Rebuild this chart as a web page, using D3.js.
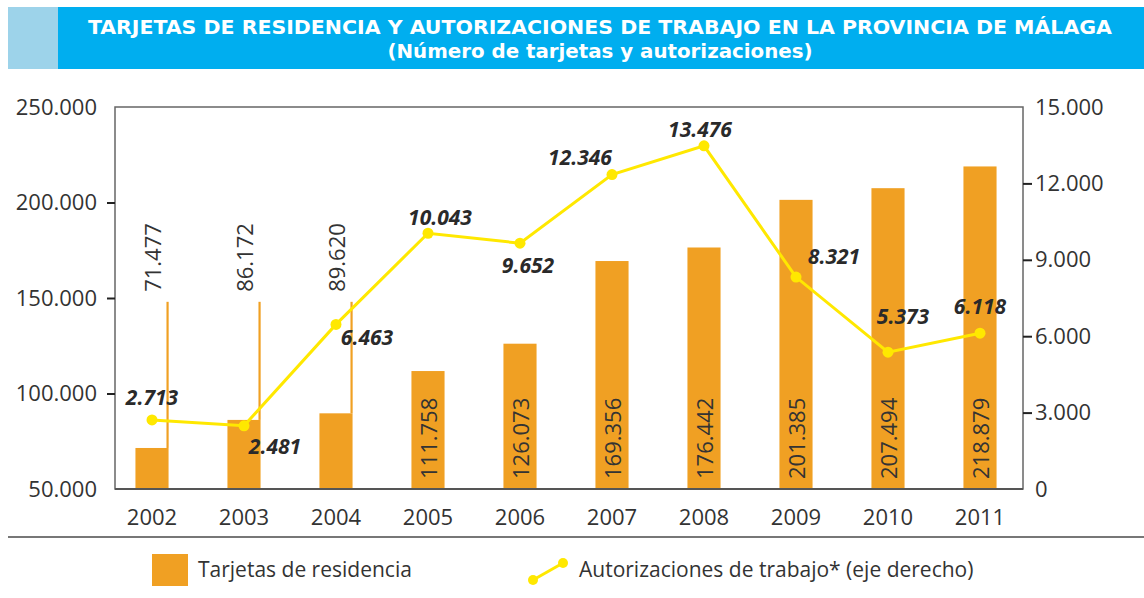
<!DOCTYPE html>
<html>
<head>
<meta charset="utf-8">
<script src="https://cdn.jsdelivr.net/npm/d3@7"></script>
<style>
  body { margin: 0; background: #fff; }
  svg { display: block; }
  text { font-family: "Open Sans", "DejaVu Sans", sans-serif; }
</style>
</head>
<body>
<div id="chart"></div>
<script>
"use strict";

// Data
const years = ["2002", "2003", "2004", "2005", "2006", "2007", "2008", "2009", "2010", "2011"];
const tarjetas = [71477, 86172, 89620, 111758, 126073, 169356, 176442, 201385, 207494, 218879];
const autorizaciones = [2713, 2481, 6463, 10043, 9652, 12346, 13476, 8321, 5373, 6118];
const leftTicks = [50000, 100000, 150000, 200000, 250000];
const rightTicks = [0, 3000, 6000, 9000, 12000, 15000];

const titleLine1 = "TARJETAS DE RESIDENCIA Y AUTORIZACIONES DE TRABAJO EN LA PROVINCIA DE MÁLAGA";
const titleLine2 = "(Número de tarjetas y autorizaciones)";
const legendBars = "Tarjetas de residencia";
const legendLine = "Autorizaciones de trabajo* (eje derecho)";

// Label nudges for the line values (dx, dy from the point)
const pointLabelOffsets = [[0, -22], [31, 21], [31, 13], [12, -16], [8, 22],
                           [-32, -17], [-4, -16], [38, -21], [15, -36], [0, -27]];

const W = 1144, H = 598;
const PLOT = { left: 115, right: 1023, top: 107, bottom: 489 };
const ORANGE = "#f0a023";
const YELLOW = "#ffe800";
const INK = "#2a2a2a";

const es = d3.formatLocale({ decimal: ",", thousands: ".", grouping: [3], currency: ["", " €"] });
const fmt = es.format(",d");

const svg = d3.select("#chart")
  .append("svg")
    .attr("width", W)
    .attr("height", H);

/*
 * Title banner
 */
svg.append("rect")
    .attr("x", 8).attr("y", 7).attr("width", 50).attr("height", 62)
    .attr("fill", "#9dd3ea");
svg.append("rect")
    .attr("x", 58).attr("y", 7).attr("width", W - 58).attr("height", 62)
    .attr("fill", "#00aeef");

svg.append("text")
    .attr("x", 600).attr("y", 34)
    .attr("text-anchor", "middle")
    .attr("textLength", 1024).attr("lengthAdjust", "spacingAndGlyphs")
    .style("font-family", "'DejaVu Sans Condensed', 'DejaVu Sans', sans-serif")
    .style("font-weight", "bold").style("font-size", "20px")
    .attr("fill", "#fff")
    .text(titleLine1);
svg.append("text")
    .attr("x", 600).attr("y", 58)
    .attr("text-anchor", "middle")
    .attr("textLength", 425).attr("lengthAdjust", "spacingAndGlyphs")
    .style("font-family", "'DejaVu Sans Condensed', 'DejaVu Sans', sans-serif")
    .style("font-weight", "bold").style("font-size", "20px")
    .attr("fill", "#fff")
    .text(titleLine2);

/*
 * Scales
 */
const x = d3.scaleBand()
    .domain(years)
    .range([106, 1026])
    .paddingInner(0.64)
    .paddingOuter(0.32);

const yL = d3.scaleLinear()
    .domain([50000, 250000])
    .range([PLOT.bottom, PLOT.top]);

const yR = d3.scaleLinear()
    .domain([0, 15000])
    .range([PLOT.bottom, PLOT.top]);

const cx = d => x(d) + x.bandwidth() / 2;

/*
 * Bars
 */
const bars = svg.append("g");
bars.selectAll("rect")
  .data(years)
  .join("rect")
    .attr("x", d => x(d))
    .attr("y", (d, i) => yL(tarjetas[i]))
    .attr("width", x.bandwidth())
    .attr("height", (d, i) => PLOT.bottom - yL(tarjetas[i]))
    .attr("fill", ORANGE);

// Leader lines for the small bars, whose labels sit above
const STEM_TOP = yL(148000);
const outside = years.filter((d, i) => tarjetas[i] < 100000);
bars.selectAll("line")
  .data(outside)
  .join("line")
    .attr("x1", d => x(d) + x.bandwidth() - 1)
    .attr("x2", d => x(d) + x.bandwidth() - 1)
    .attr("y1", STEM_TOP)
    .attr("y2", d => yL(tarjetas[years.indexOf(d)]))
    .attr("stroke", ORANGE)
    .attr("stroke-width", 2.2);

bars.selectAll("text")
  .data(years)
  .join("text")
    .attr("transform", (d, i) => {
        const ty = tarjetas[i] < 100000 ? STEM_TOP - 10 : PLOT.bottom - 10;
        return `translate(${cx(d) + 1},${ty}) rotate(-90)`;
    })
    .attr("dy", "0.36em")
    .attr("fill", "#333")
    .style("font-size", "22px")
    .text((d, i) => fmt(tarjetas[i]));

/*
 * Frame and axes
 */
svg.append("rect")
    .attr("x", PLOT.left).attr("y", PLOT.top)
    .attr("width", PLOT.right - PLOT.left)
    .attr("height", PLOT.bottom - PLOT.top)
    .attr("fill", "none")
    .attr("stroke", "#666")
    .attr("stroke-width", 1.5);
svg.append("line")
    .attr("x1", PLOT.left).attr("x2", PLOT.right)
    .attr("y1", PLOT.bottom).attr("y2", PLOT.bottom)
    .attr("stroke", "#555").attr("stroke-width", 2);

const leftAxis = svg.append("g")
    .attr("transform", `translate(${PLOT.left},0)`)
    .call(d3.axisLeft(yL).tickValues(leftTicks).tickFormat(fmt).tickSize(8).tickPadding(10));

const rightAxis = svg.append("g")
    .attr("transform", `translate(${PLOT.right},0)`)
    .call(d3.axisRight(yR).tickValues(rightTicks).tickFormat(fmt).tickSize(9).tickPadding(3));

const bottomAxis = svg.append("g")
    .attr("transform", `translate(0,${PLOT.bottom})`)
    .call(d3.axisBottom(x).tickSize(0).tickPadding(20));

[leftAxis, rightAxis, bottomAxis].forEach(g => {
    g.select(".domain").remove();
    g.selectAll(".tick line").attr("stroke", "#222").attr("stroke-width", 2);
    g.selectAll(".tick text")
        .attr("fill", "#333")
        .style("font-family", "'Open Sans', sans-serif")
        .style("font-size", "22px");
});
// No tick marks at the frame corners
leftAxis.selectAll(".tick line").filter(d => d === 50000 || d === 250000).remove();
rightAxis.selectAll(".tick line").filter(d => d === 0 || d === 15000).remove();

/*
 * Line series (right axis)
 */
const line = d3.line()
    .x((d, i) => cx(years[i]))
    .y(d => yR(d));

svg.append("path")
    .datum(autorizaciones)
    .attr("d", line)
    .attr("fill", "none")
    .attr("stroke", YELLOW)
    .attr("stroke-width", 3);

svg.append("g")
  .selectAll("circle")
  .data(autorizaciones)
  .join("circle")
    .attr("cx", (d, i) => cx(years[i]))
    .attr("cy", d => yR(d))
    .attr("r", 5.5)
    .attr("fill", YELLOW);

svg.append("g")
  .selectAll("text")
  .data(autorizaciones)
  .join("text")
    .attr("x", (d, i) => cx(years[i]) + pointLabelOffsets[i][0])
    .attr("y", (d, i) => yR(d) + pointLabelOffsets[i][1])
    .attr("dy", "0.36em")
    .attr("text-anchor", "middle")
    .attr("fill", INK)
    .style("font-size", "21px")
    .style("font-weight", "bold")
    .style("font-style", "italic")
    .text(d => fmt(d));

/*
 * Separator and legend
 */
svg.append("line")
    .attr("x1", 8).attr("x2", W)
    .attr("y1", 537).attr("y2", 537)
    .attr("stroke", "#777").attr("stroke-width", 2);

const legend = svg.append("g");
legend.append("rect")
    .attr("x", 152).attr("y", 554).attr("width", 36).attr("height", 32)
    .attr("fill", ORANGE);
legend.append("text")
    .attr("x", 198).attr("y", 569).attr("dy", "0.36em")
    .attr("fill", "#333").style("font-size", "21px")
    .text(legendBars);

legend.append("line")
    .attr("x1", 533).attr("y1", 580).attr("x2", 563).attr("y2", 563)
    .attr("stroke", YELLOW).attr("stroke-width", 3);
legend.selectAll("circle")
  .data([[533, 580], [563, 563]])
  .join("circle")
    .attr("cx", d => d[0]).attr("cy", d => d[1])
    .attr("r", 5).attr("fill", YELLOW);
legend.append("text")
    .attr("x", 579).attr("y", 569).attr("dy", "0.36em")
    .attr("fill", "#333").style("font-size", "21px")
    .text(legendLine);
</script>
</body>
</html>
